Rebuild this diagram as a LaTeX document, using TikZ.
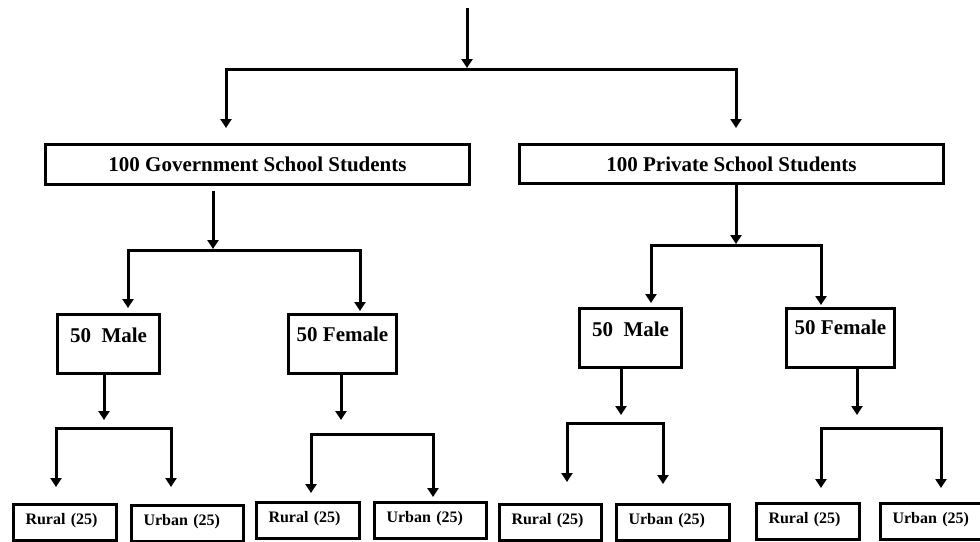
\documentclass[tikz,border=0pt]{standalone}
\usepackage{fontspec}
\setmainfont{Liberation Serif}
\usetikzlibrary{arrows.meta}
\begin{document}
\begin{tikzpicture}[x=1pt,y=-1pt,
  ln/.style={line width=3pt,line cap=rect},
  arr/.style={line width=3pt,-{Triangle[length=9pt,width=11pt]}},
  topbox/.style={draw,line width=3pt,inner sep=0pt,anchor=north west,
    minimum width=424pt,minimum height=40pt,font=\fontsize{21}{25}\selectfont\bfseries},
  midbox/.style={draw,line width=3pt,inner sep=0pt,anchor=north west,
    text height=28pt,text depth=31pt,font=\fontsize{21}{25}\selectfont\bfseries},
  leaf/.style={draw,line width=3pt,inner xsep=12pt,inner ysep=0pt,anchor=north west,
    text height=20pt,text depth=16pt,align=left,font=\fontsize{16}{18}\selectfont\bfseries}
]
\clip (0,0) rectangle (980,541);
\fill[white] (0,0) rectangle (980,541);

% boxes
\node[topbox] (gov) at (44,143) {100 Government School Students};
\node[topbox,minimum height=39pt] (priv) at (518,143) {100 Private School Students};

\node[midbox,minimum width=102pt] (m1) at (56,313) {50\ \ Male};
\node[midbox,minimum width=108pt,text height=27pt,text depth=32pt] (f1) at (287,313) {50 Female};
\node[midbox,minimum width=102pt] (m2) at (578,307) {50\ \ Male};
\node[midbox,minimum width=108pt,text height=26pt,text depth=33pt] (f2) at (785,307) {50 Female};

\node[leaf,text width=79pt] (r1) at (12,503) {Rural (25)};
\node[leaf,text width=88pt] (u1) at (130,504) {Urban (25)};
\node[leaf,text width=79pt] (r2) at (255,501) {Rural (25)};
\node[leaf,text width=88pt] (u2) at (373,501) {Urban (25)};
\node[leaf,text width=78pt] (r3) at (498,503) {Rural (25)};
\node[leaf,text width=89pt] (u3) at (615,503) {Urban (25)};
\node[leaf,text width=79pt] (r4) at (755,502) {Rural (25)};
\node[leaf,text width=86pt] (u4) at (879,502) {Urban (25)};

% top split
\coordinate (t0) at (467,8);
\coordinate (t1) at (467,68);
\coordinate (tl) at (226,69);
\coordinate (tr) at (736,69);
\coordinate (gin) at (226,128);
\coordinate (pin) at (736,128);
\draw[arr] (t0) -- (t1);
\draw[ln] (tl) -- (tr);
\draw[arr] (tl) -- (gin);
\draw[arr] (tr) -- (pin);

% government split
\coordinate (g0) at (213,191);
\coordinate (g1) at (213,249);
\coordinate (gl) at (128,250);
\coordinate (gr) at (360,250);
\coordinate (m1in) at (128,308);
\coordinate (f1in) at (360,311);
\draw[arr] (g0) -- (g1);
\draw[ln] (gl) -- (gr);
\draw[arr] (gl) -- (m1in);
\draw[arr] (gr) -- (f1in);

% private split
\coordinate (p0) at (736,183);
\coordinate (p1) at (736,244);
\coordinate (pl) at (651,245);
\coordinate (pr) at (821,245);
\coordinate (m2in) at (651,303);
\coordinate (f2in) at (821,305);
\draw[arr] (p0) -- (p1);
\draw[ln] (pl) -- (pr);
\draw[arr] (pl) -- (m2in);
\draw[arr] (pr) -- (f2in);

% male 1
\coordinate (a0) at (104,372);
\coordinate (a1) at (104,420);
\coordinate (al) at (56,428);
\coordinate (ar) at (171,428);
\coordinate (r1in) at (56,487);
\coordinate (u1in) at (171,487);
\draw[arr] (a0) -- (a1);
\draw[ln] (al) -- (ar);
\draw[arr] (al) -- (r1in);
\draw[arr] (ar) -- (u1in);

% female 1
\coordinate (b0) at (341,372);
\coordinate (b1) at (341,420);
\coordinate (bl) at (311,434);
\coordinate (br) at (433,434);
\coordinate (r2in) at (311,493);
\coordinate (u2in) at (433,497);
\draw[arr] (b0) -- (b1);
\draw[ln] (bl) -- (br);
\draw[arr] (bl) -- (r2in);
\draw[arr] (br) -- (u2in);

% male 2
\coordinate (c0) at (621,366);
\coordinate (c1) at (621,415);
\coordinate (cl) at (567,423);
\coordinate (cr) at (663,423);
\coordinate (r3in) at (567,482);
\coordinate (u3in) at (663,484);
\draw[arr] (c0) -- (c1);
\draw[ln] (cl) -- (cr);
\draw[arr] (cl) -- (r3in);
\draw[arr] (cr) -- (u3in);

% female 2
\coordinate (d0) at (857,366);
\coordinate (d1) at (857,415);
\coordinate (dl) at (821,428);
\coordinate (dr) at (941,428);
\coordinate (r4in) at (821,488);
\coordinate (u4in) at (941,488);
\draw[arr] (d0) -- (d1);
\draw[ln] (dl) -- (dr);
\draw[arr] (dl) -- (r4in);
\draw[arr] (dr) -- (u4in);
\end{tikzpicture}
\end{document}
